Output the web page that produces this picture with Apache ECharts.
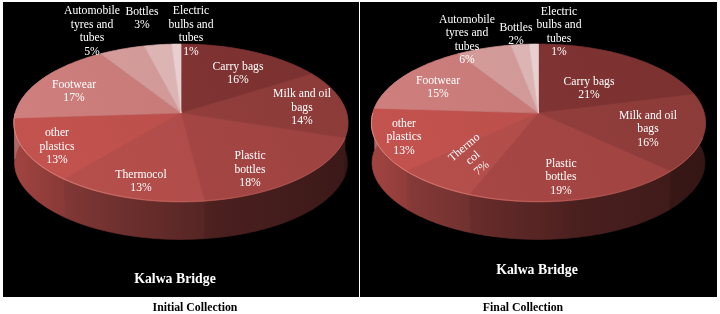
<!DOCTYPE html>
<html><head><meta charset="utf-8">
<style>html,body{margin:0;padding:0;background:#fff}#c{width:720px;height:314px}</style>
<script src="https://cdn.jsdelivr.net/npm/echarts@6/dist/echarts.min.js"></script>
</head><body><div id="c"></div>
<script>
// ---- data ----
const initialNames = ['Carry bags','Milk and oil\nbags','Plastic\nbottles','Thermocol','other\nplastics','Footwear','Automobile\ntyres and\ntubes','Bottles','Electric\nbulbs and\ntubes'];
const finalNames   = ['Carry bags','Milk and oil\nbags','Plastic\nbottles','Thermo\ncol','other\nplastics','Footwear','Automobile\ntyres and\ntubes','Bottles','Electric\nbulbs and\ntubes'];
const initialValues = [16,14,18,13,13,17,5,3,1];
const finalValues   = [21,16,19,7,13,15,6,2,1];
const siteTitle = 'Kalwa Bridge';
const initialCaption = 'Initial Collection';
const finalCaption = 'Final Collection';

// ---- layout and style ----
const sliceColors = ['#7f3332','#913d3b','#a34543','#af4c49','#bb4f4b','#c67a78','#d09896','#dcb3b3','#e8cfcf'];
const initialLabelAt = [[238,73.5],[302,107.5],[250,169.5],[141,181.5],[57,146.5],[74,91.5],[92,31.5],[142,18.5],[191,31.5]];
const finalLabelAt   = [[589,88.5],[648,129],[561,177],[473,158],[404,137],[438,87.5],[467,40],[516,34.5],[559,32]];
const finalLabelRot  = {3:0.7};
const wallShade = [[0,.86],[.14,.74],[.3,.64],[.55,.5],[.6,.46],[1,.36]];
const K = .1266, R = 165.7, S = 77.7, BOTTOM_X = .985, BOTTOM_Y = .96, DEPTH = 41;

function shade(hex,f){
  const n=parseInt(hex.slice(1),16);
  const c=[n>>16,(n>>8)&255,n&255].map(v=>Math.min(255,Math.round(v*f)));
  return 'rgb('+c.join(',')+')';
}
function proj(cx,ay,a,sx,sy,dy){
  const u=Math.sin(a), v=-Math.cos(a), w=1-K*v;
  return [cx+R*sx*u/w, ay+dy+S*sy*v/w];
}
function arc(cx,ay,a0,a1,sx,sy,dy){
  const n=Math.max(2,Math.ceil((a1-a0)/0.02)), pts=[];
  for(let i=0;i<=n;i++){
    const a=a0+(a1-a0)*i/n;
    const widen=sx<1?Math.pow(Math.sin(a),8)*.012:0;
    pts.push(proj(cx,ay,a,sx+widen,sy,dy));
  }
  return pts;
}
function angles(values,i){
  const total=values.reduce((s,v)=>s+v,0);
  let c=0; for(let k=0;k<i;k++) c+=values[k];
  return [c/total*2*Math.PI,(c+values[i])/total*2*Math.PI];
}
function pieSeries(values,names,labelAt,labelRot,cx,ay){
  const data=values.map(v=>[v]);
  const base={type:'custom',coordinateSystem:'none',data,silent:true,animation:false,clip:false};
  const wall={...base,z:1,renderItem(p,api){
    const i=p.dataIndex,[a0,a1]=angles(values,i);
    const from=Math.max(a0,Math.PI*.3),to=Math.min(a1,Math.PI*1.7);
    if(to<=from) return {type:'group',children:[]};
    const top=arc(cx,ay,from,to,1,1,0),bot=arc(cx,ay,from,to,BOTTOM_X,BOTTOM_Y,DEPTH).reverse();
    const g=new echarts.graphic.LinearGradient(cx-R,0,cx+R,0,wallShade.map(s=>({offset:s[0],color:shade(sliceColors[i],s[1])})),true);
    return {type:'polygon',shape:{points:top.concat(bot)},style:{fill:g,stroke:g,lineWidth:.7}};
  }};
  const face={...base,z:2,renderItem(p,api){
    const i=p.dataIndex,[a0,a1]=angles(values,i);
    const c=sliceColors[i];
    const g=new echarts.graphic.LinearGradient(cx-R,ay+60,cx+R,ay-60,[{offset:0,color:shade(c,1.05)},{offset:1,color:shade(c,.96)}],true);
    return {type:'polygon',shape:{points:[[cx,ay]].concat(arc(cx,ay,a0,a1,1,1,0))},style:{fill:g,stroke:g,lineWidth:.7}};
  }};
  const rim={...base,z:3,renderItem(p,api){
    const i=p.dataIndex,[a0,a1]=angles(values,i);
    const from=Math.max(a0,Math.PI*.6),to=Math.min(a1,Math.PI*1.5);
    if(to<=from) return {type:'group',children:[]};
    const pts=arc(cx,ay,from,to,1,.995,0);
    return {type:'polyline',shape:{points:pts},style:{fill:null,lineWidth:1,
      stroke:new echarts.graphic.LinearGradient(cx-R,0,cx+R*.5,0,[{offset:0,color:'#de8a82'},{offset:.55,color:'#c2625c'},{offset:1,color:'#a9524e'}],true)}};
  }};
  const labels={...base,z:4,renderItem(p,api){
    const i=p.dataIndex,pos=labelAt[i];
    return {type:'text',x:pos[0],y:pos[1],rotation:labelRot[i]||0,style:{
      text:names[i]+'\n'+api.value(0)+'%',x:0,y:0,align:'center',verticalAlign:'middle',
      font:'11.7px "Liberation Serif"',lineHeight:13.5,fill:'#fff'}};
  }};
  return [wall,face,rim,labels];
}
const titleStyle=(text,x,y,size,color)=>({text,left:x,top:y,textAlign:'center',textVerticalAlign:'middle',padding:0,
  textStyle:{color,fontFamily:'Liberation Serif',fontWeight:'bold',fontSize:size,lineHeight:size+2}});
const chart=echarts.init(document.getElementById('c'),null,{renderer:'canvas'});
chart.setOption({
  animation:false,backgroundColor:'#fff',
  graphic:[
    {type:'rect',z:-10,shape:{x:3,y:2,width:356,height:295},style:{fill:'#000'}},
    {type:'rect',z:-10,shape:{x:360,y:2,width:357,height:295},style:{fill:'#000'}}
  ],
  title:[
    titleStyle(siteTitle,175,279,13.8,'#fff'),
    titleStyle(siteTitle,537,270,13.8,'#fff'),
    titleStyle(initialCaption,195,308,11.8,'#000'),
    titleStyle(finalCaption,523,308,11.8,'#000')
  ],
  series:[
    ...pieSeries(initialValues,initialNames,initialLabelAt,{},181,113),
    ...pieSeries(finalValues,finalNames,finalLabelAt,finalLabelRot,538.5,113)
  ]
});
</script></body></html>
